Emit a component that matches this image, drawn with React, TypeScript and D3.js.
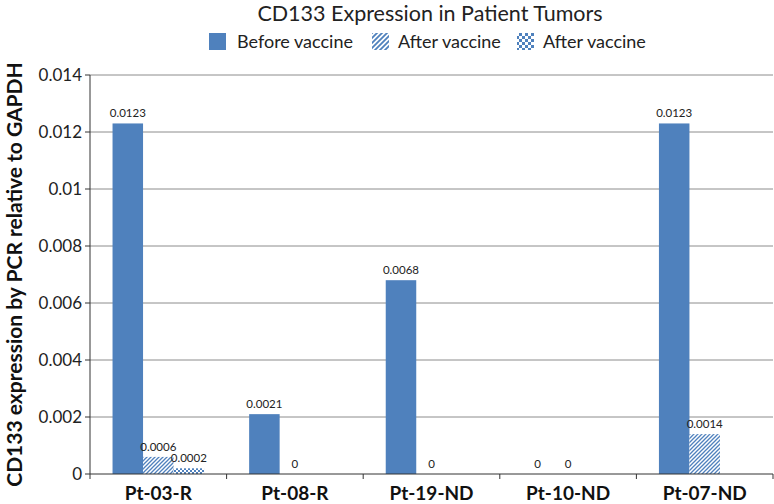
import React from "react";
import * as d3 from "d3";

const categories = ["Pt-03-R", "Pt-08-R", "Pt-19-ND", "Pt-10-ND", "Pt-07-ND"];
const beforeValues: (number | null)[] = [0.0123, 0.0021, 0.0068, 0, 0.0123];
const afterValues: (number | null)[] = [0.0006, 0, 0, 0, 0.0014];
const after2Values: (number | null)[] = [0.0002, null, null, null, null];
const seriesNames = ["Before vaccine", "After vaccine", "After vaccine"];
const yTicks = [0, 0.002, 0.004, 0.006, 0.008, 0.01, 0.012, 0.014];
const yTickLabels = ["0", "0.002", "0.004", "0.006", "0.008", "0.01", "0.012", "0.014"];

const W = 774, H = 504;
const left = 90, right = 773, top = 75, bottom = 474;
const BLUE = "#4F81BD";
const FONT = "Lato, 'Open Sans', sans-serif";

export default function App() {
  const x = d3.scaleBand().domain(categories).range([left, right]).paddingInner(0).paddingOuter(0);
  const y = d3.scaleLinear().domain([0, 0.014]).range([bottom, top]);
  const series = [beforeValues, afterValues, after2Values];
  const fills = [BLUE, "url(#hatch)", "url(#checker)"];
  const bw = x.bandwidth();
  const groupPad = bw * 0.165;
  const xs = d3.scaleBand().domain(["0", "1", "2"]).range([0, bw - 2 * groupPad]).padding(0);

  return (
    <svg width={W} height={H} style={{ position: "absolute", left: 0, top: 0, fontFamily: FONT }}>
      <defs>
        <pattern id="hatch" patternUnits="userSpaceOnUse" width="4" height="4">
          <rect width="4" height="4" fill="#fff" />
          <path d="M-1,1 l2,-2 M0,4 l4,-4 M3,5 l2,-2" stroke={BLUE} strokeWidth="1.3" />
        </pattern>
        <pattern id="checker" patternUnits="userSpaceOnUse" width="4" height="4">
          <rect width="4" height="4" fill="#fff" />
          <rect x="0" y="0" width="2" height="2" fill={BLUE} />
          <rect x="2" y="2" width="2" height="2" fill={BLUE} />
        </pattern>
        <pattern id="hatchL" patternUnits="userSpaceOnUse" width="5" height="5">
          <rect width="5" height="5" fill="#fff" />
          <path d="M-1,1 l2,-2 M0,5 l5,-5 M4,6 l2,-2" stroke={BLUE} strokeWidth="1.8" />
        </pattern>
        <pattern id="checkerL" patternUnits="userSpaceOnUse" width="6" height="6">
          <rect width="6" height="6" fill="#fff" />
          <rect x="0" y="0" width="3" height="3" fill={BLUE} />
          <rect x="3" y="3" width="3" height="3" fill={BLUE} />
        </pattern>
      </defs>
      <rect width={W} height={H} fill="#fff" />
      <text x={430} y={21} textAnchor="middle" fontSize={21.5} fill="#222">CD133 Expression in Patient Tumors</text>
      {/* legend */}
      <g>
        <rect x={209} y={33} width={17} height={17} fill={BLUE} />
        <text x={237} y={48} fontSize={18} fill="#222">{seriesNames[0]}</text>
        <rect x={372} y={33} width={17} height={17} fill="url(#hatchL)" />
        <text x={398} y={48} fontSize={18} fill="#222">{seriesNames[1]}</text>
        <rect x={517} y={33} width={17} height={17} fill="url(#checkerL)" />
        <text x={543} y={48} fontSize={18} fill="#222">{seriesNames[2]}</text>
      </g>
      {/* gridlines */}
      {yTicks.map((t, i) => (
        <g key={i}>
          {i > 0 && <line x1={left} x2={right} y1={y(t)} y2={y(t)} stroke="#8c8c8c" strokeWidth={1} />}
          <line x1={left - 5} x2={left} y1={y(t)} y2={y(t)} stroke="#333" />
          <text x={left - 8} y={y(t) + 6} textAnchor="end" fontSize={17} fill="#222">{yTickLabels[i]}</text>
        </g>
      ))}
      {/* bars */}
      {categories.map((c, ci) => (
        <g key={c}>
          {series.map((s, si) => {
            const v = s[ci];
            if (v === null) return null;
            const bx = (x(c) as number) + groupPad + (xs(String(si)) as number);
            const bwid = xs.bandwidth();
            return (
              <g key={si}>
                {v > 0 && <rect x={bx} y={y(v)} width={bwid} height={bottom - y(v)} fill={fills[si]} />}
                <text x={bx + bwid / 2} y={y(v) - 6} textAnchor="middle" fontSize={11.5} fill="#222">{String(v)}</text>
              </g>
            );
          })}
        </g>
      ))}
      {/* axes */}
      <line x1={left} x2={left} y1={top} y2={bottom} stroke="#333" />
      <line x1={left} x2={right} y1={bottom} y2={bottom} stroke="#333" />
      {categories.map((c, i) => (
        <line key={"t" + i} x1={x(c)} x2={x(c)} y1={bottom} y2={bottom + 5} stroke="#333" />
      ))}
      <line x1={right} x2={right} y1={bottom} y2={bottom + 5} stroke="#333" />
      {categories.map((c) => (
        <text key={"l" + c} x={(x(c) as number) + bw / 2} y={500} textAnchor="middle" fontSize={19} fontWeight="bold" fill="#111">{c}</text>
      ))}
      <text transform={`translate(22,${(top + bottom) / 2}) rotate(-90)`} textAnchor="middle" fontSize={21} fontWeight="bold" fill="#111">
        CD133 expression by PCR relative to GAPDH
      </text>
    </svg>
  );
}
